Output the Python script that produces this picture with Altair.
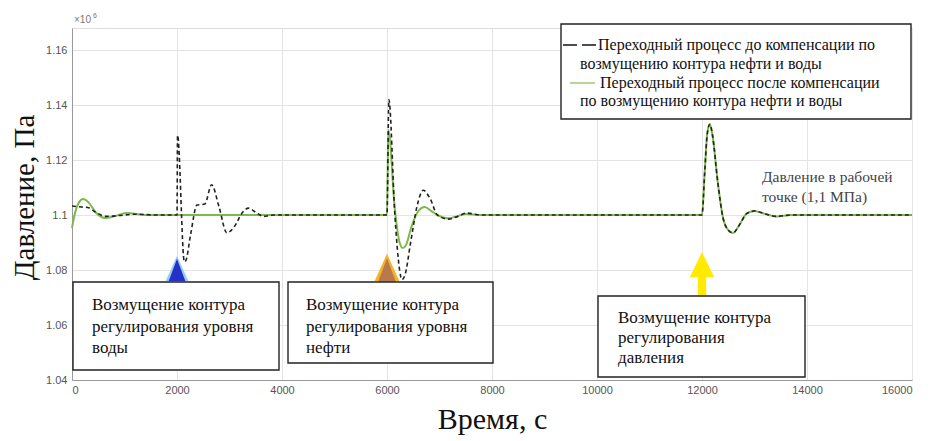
import altair as alt
import pandas as pd

# ---- data ----
# Pressure, x10^6 Pa ; time, s
t_before = [0, 120, 300, 450, 650, 900, 1200, 1600, 2000, 2010, 2140, 2170, 2260, 2380, 2530, 2660,
            2800, 2950, 3100, 3240, 3360, 3500, 3650, 3840, 4500, 6000, 6035, 6150, 6240, 6285, 6340,
            6450, 6570, 6690, 6820, 6960, 7170, 7350, 7520, 7800, 9000, 12000, 12050, 12100, 12150,
            12200, 12300, 12400, 12500, 12590, 12700, 12850, 13000, 13200, 13420, 13700, 16000]
p_before = [1.1033, 1.1030, 1.1027, 1.1010, 1.0995, 1.0998, 1.1003, 1.1000, 1.1000, 1.1290, 1.0830,
            1.0835, 1.0930, 1.1036, 1.1040, 1.1110, 1.1030, 1.0935, 1.0960, 1.1007, 1.1025, 1.1010,
            1.0995, 1.1000, 1.1000, 1.1000, 1.1420, 1.1000, 1.0800, 1.0765, 1.0780, 1.0900, 1.1030,
            1.1090, 1.1060, 1.1000, 1.0985, 1.0995, 1.1007, 1.1000, 1.1000, 1.1000, 1.1150, 1.1295,
            1.1330, 1.1290, 1.1120, 1.0990, 1.0945, 1.0935, 1.0960, 1.1005, 1.1015, 1.1004, 1.0995,
            1.1000, 1.1000]

t_after = [0, 60, 130, 210, 320, 450, 630, 800, 1040, 1400, 6000, 6025, 6150, 6240, 6300, 6360,
           6470, 6600, 6720, 6840, 6960, 7170, 7350, 7500, 7800, 9000, 12000, 12050, 12100, 12150,
           12200, 12300, 12400, 12500, 12590, 12700, 12850, 13000, 13200, 13420, 13700, 16000]
p_after = [1.0953, 1.1010, 1.1045, 1.1058, 1.1045, 1.1010, 1.0989, 1.0995, 1.1007, 1.1000, 1.1000,
           1.1310, 1.1020, 1.0900, 1.0880, 1.0890, 1.0960, 1.1015, 1.1029, 1.1015, 1.1000, 1.0988,
           1.0996, 1.1004, 1.1000, 1.1000, 1.1000, 1.1150, 1.1295, 1.1330, 1.1290, 1.1120, 1.0990,
           1.0945, 1.0935, 1.0960, 1.1005, 1.1015, 1.1004, 1.0995, 1.1000, 1.1000]

x_ticks = [0, 2000, 4000, 6000, 8000, 10000, 12000, 14000, 16000]
y_ticks = [1.04, 1.06, 1.08, 1.10, 1.12, 1.14, 1.16]

legend_lines = ["Переходный процесс до компенсации по",
                "возмущению контура нефти и воды",
                "Переходный процесс после компенсации",
                "по возмущению контура нефти и воды"]
box1_lines = ["Возмущение контура", "регулирования уровня", "воды"]
box2_lines = ["Возмущение контура", "регулирования уровня", "нефти"]
box3_lines = ["Возмущение контура", "регулирования", "давления"]
op_lines = ["Давление в рабочей", "точке (1,1 МПа)"]
event_t = [2000, 6000, 12000]
event_k = ["water", "oil", "pressure"]

W, H = 840, 352
SERIF = "Liberation Serif"
SANS = "Liberation Sans"

df_b = pd.DataFrame({"t": t_before, "p": p_before})
df_a = pd.DataFrame({"t": t_after, "p": p_after})

xs = alt.Scale(domain=[0, 16000], nice=False, zero=False)
ys = alt.Scale(domain=[1.04, 1.168], nice=False, zero=False)

x_axis = alt.Axis(values=x_ticks, format="d", title="Время, с", titleFont=SERIF, titleFontSize=30,
                  titleFontWeight="normal", titleColor="#111", titlePadding=9,
                  labelFont=SANS, labelFontSize=11, labelColor="#555", labelPadding=4,
                  ticks=False, grid=True, gridColor="#e4e4e4", domainColor="#999")
y_axis = alt.Axis(values=y_ticks, labelExpr="toString(round(datum.value*100)/100)",
                  title="Давление, Па", titleFont=SERIF, titleFontSize=29, titleFontWeight="normal",
                  titleColor="#111", titleAngle=-90, titleX=-39, titleY=169, titleAlign="center",
                  titleBaseline="alphabetic",
                  labelFont=SANS, labelFontSize=11, labelColor="#555", labelPadding=5,
                  ticks=False, grid=True, gridColor="#e4e4e4", domainColor="#999")

green = alt.Chart(df_a).mark_line(color="#7cb84a", strokeWidth=2, interpolate="monotone").encode(
    x=alt.X("t:Q", scale=xs, axis=x_axis),
    y=alt.Y("p:Q", scale=ys, axis=y_axis),
)
black = alt.Chart(df_b).mark_line(color="#222", strokeWidth=1.6, strokeDash=[4, 3],
                                  interpolate="monotone").encode(
    x=alt.X("t:Q", scale=xs), y=alt.Y("p:Q", scale=ys))

one = alt.Data(values=[{"a": 1}])

# event markers
ev = pd.DataFrame({"t": event_t, "k": event_k})
tri = "M-0.75,1 L0,-1 L0.75,1 Z"
tri_glow = "M-0.95,1 L0,-1.1 L0.95,1 Z"
arrow = "M0,-1 L0.55,0.14 L0.19,0.14 L0.19,1 L-0.19,1 L-0.19,0.14 L-0.55,0.14 Z"


def marker(k, shape, size, color, yv, opacity=1.0):
    return alt.Chart(ev[ev.k == k]).mark_point(shape=shape, size=size, filled=True, color=color,
                                               opacity=opacity, strokeWidth=0).encode(
        x=alt.X("t:Q", scale=xs), y=alt.value(yv))


markers = [
    marker("water", tri_glow, 576, "#8ec9f2", 241, 0.9),
    marker("water", tri, 500, "#2432c8", 242),
    marker("oil", tri_glow, 676, "#f5b32a", 240),
    marker("oil", tri, 560, "#b8794f", 242),
    marker("pressure", arrow, 1936, "#ffea00", 246),
]


def box(x1, x2, y1, y2, sw=1.4):
    return alt.Chart(one).mark_rect(fill="white", stroke="#222", strokeWidth=sw).encode(
        x=alt.value(x1), x2=alt.value(x2), y=alt.value(y1), y2=alt.value(y2))


def lines(texts, x0, y0, dy, size, color="#111"):
    out = []
    for i, s in enumerate(texts):
        out.append(alt.Chart(one).mark_text(align="left", baseline="middle", font=SERIF,
                                            fontSize=size, color=color).encode(
            x=alt.value(x0), y=alt.value(y0 + i * dy), text=alt.value(s)))
    return out


def seg(x1, x2, y, color):
    return alt.Chart(one).mark_rule(color=color, strokeWidth=1.5).encode(
        x=alt.value(x1), x2=alt.value(x2), y=alt.value(y))


layers = [green, black] + markers
layers += [box(1, 207, 254, 342)] + lines(box1_lines, 20, 277, 21.5, 17)
layers += [box(216, 421, 254, 335)] + lines(box2_lines, 234, 277, 21.5, 17)
layers += [box(526, 733, 268, 349)] + lines(box3_lines, 546, 290, 20, 17)
layers += [box(489, 839, -4, 91), seg(491, 505, 17, "#111"), seg(510, 524, 17, "#111"),
           seg(498, 523, 55, "#9ccc70")]
layers += lines([legend_lines[0]], 526, 17, 18, 16)
layers += lines([legend_lines[1]], 508, 36, 18, 16)
layers += lines([legend_lines[2]], 528, 55, 18, 16)
layers += lines([legend_lines[3]], 508, 73, 18, 16)
layers += lines(op_lines, 690, 149, 20, 15.5, "#444")
layers += [
    alt.Chart(one).mark_text(align="left", baseline="alphabetic", font=SANS, fontSize=10, color="#777").encode(
        x=alt.value(2), y=alt.value(-5), text=alt.value("×10")),
    alt.Chart(one).mark_text(align="left", baseline="alphabetic", font=SANS, fontSize=7, color="#777").encode(
        x=alt.value(21), y=alt.value(-10), text=alt.value("6")),
]

chart = alt.layer(*layers).properties(
    width=W, height=H, autosize=alt.AutoSizeParams(type="none"),
    padding={"left": 64, "top": 20, "right": 10, "bottom": 61},
).configure_view(stroke="#999", strokeWidth=1).configure(background="white")

chart.save("out.html", embed_options={"renderer": "svg", "actions": False})
